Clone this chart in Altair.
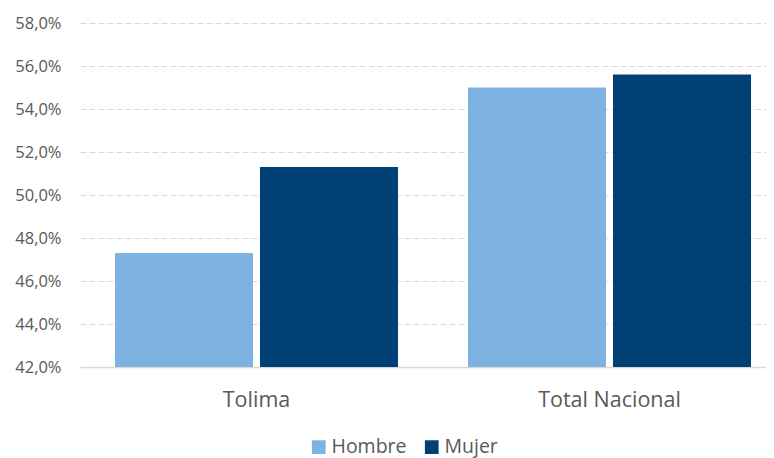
import altair as alt
import pandas as pd

regions = ["Tolima", "Total Nacional"]
sexes = ["Hombre", "Mujer"]
hombre = [47.3, 55.0]
mujer = [51.3, 55.6]
colors = ["#7DB2E1", "#004074"]
y_ticks = [42, 44, 46, 48, 50, 52, 54, 56, 58]

rows = []
for i, r in enumerate(regions):
    rows.append({"region": r, "sexo": "Hombre", "valor": hombre[i]})
    rows.append({"region": r, "sexo": "Mujer", "valor": mujer[i]})
df = pd.DataFrame(rows)

FONT = "Open Sans"
GREY = "#595959"

chart = alt.Chart(df).mark_bar(clip=True).encode(
    x=alt.X("region:N", sort=regions, title=None,
            scale=alt.Scale(paddingInner=0.1983, paddingOuter=0.0708, align=0.7),
            axis=alt.Axis(labelAngle=0, labelFontSize=21.5, labelFont=FONT, labelColor=GREY,
                          ticks=False, tickSize=0, labelPadding=22, domain=True,
                          domainColor="#D9D9D9", domainWidth=1.5)),
    xOffset=alt.XOffset("sexo:N", sort=sexes,
                        scale=alt.Scale(paddingInner=0.048, paddingOuter=0)),
    y=alt.Y("valor:Q", title=None,
            scale=alt.Scale(domain=[42, 58], nice=False, zero=False),
            axis=alt.Axis(values=y_ticks, labelExpr="replace(format(datum.value, '.1f'), '.', ',') + '%'",
                          labelFontSize=16.5, labelFont=FONT, labelColor=GREY,
                          ticks=False, tickSize=0, labelPadding=19, domain=False,
                          grid=True, gridColor="#D9D9D9", gridDash=[6, 3], gridWidth=1)),
    color=alt.Color("sexo:N", sort=sexes, title=None,
                    scale=alt.Scale(domain=sexes, range=colors),
                    legend=alt.Legend(orient="none", legendX=229, legendY=414, direction="horizontal",
                                      symbolType="square", symbolSize=188, symbolStrokeWidth=0,
                                      labelFontSize=19.5, labelFont=FONT, labelColor=GREY,
                                      labelOffset=3, columnPadding=15, padding=0)),
).properties(
    width=686, height=344,
    autosize=alt.AutoSizeParams(type="none"),
    padding={"left": 72, "top": 15, "right": 0, "bottom": 91},
).configure_view(stroke=None)

chart.save("out.html", embed_options={"renderer": "svg", "actions": False})
